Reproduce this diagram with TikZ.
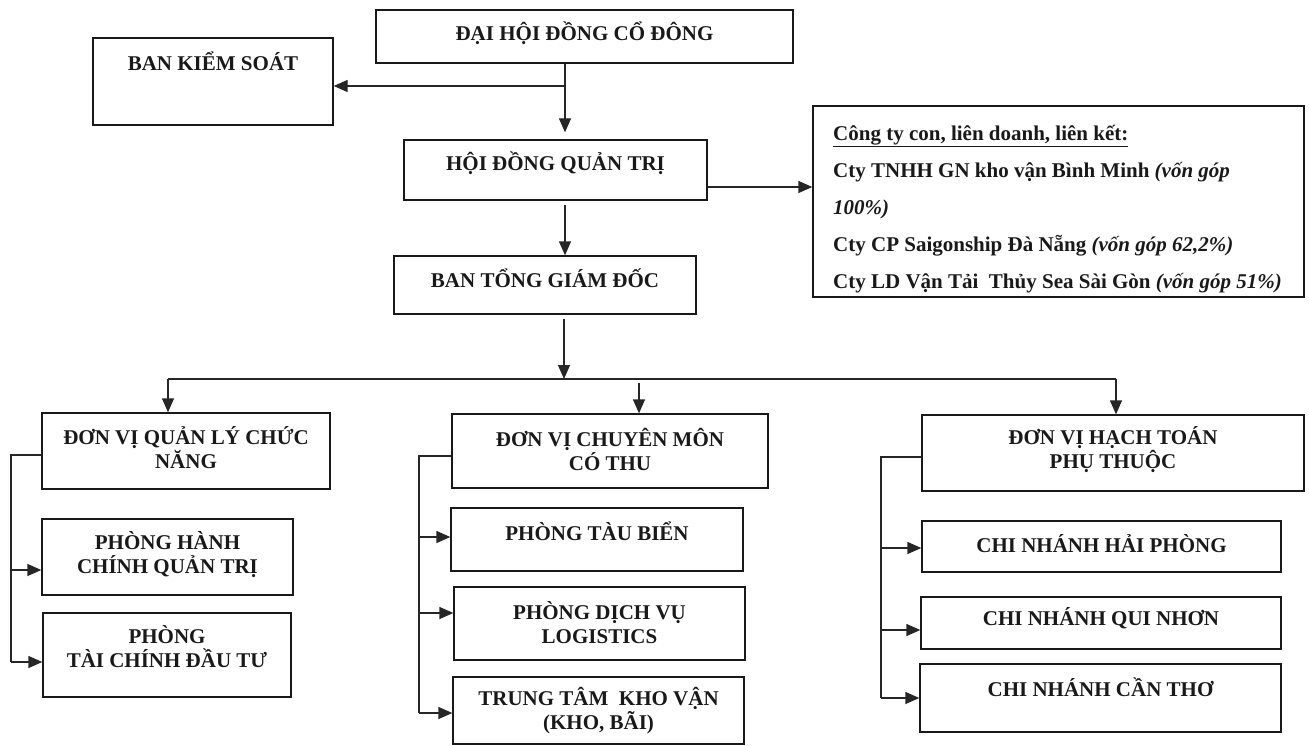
\documentclass[tikz,border=0pt]{standalone}
\usepackage{fontspec}
\setmainfont{Liberation Serif}
\usetikzlibrary{arrows.meta}
\tikzset{
  box/.style={draw=black!90, line width=1.3pt, rectangle, inner sep=0pt},
  lbl/.style={inner sep=0pt, align=center, text=black!90, font=\bfseries\fontsize{21}{24}\selectfont},
  sublbl/.style={inner sep=0pt, align=left, text=black!90, anchor=west, font=\bfseries\fontsize{21}{37}\selectfont},
  line/.style={draw=black!85, line width=1.3pt},
  arr/.style={draw=black!85, line width=1.3pt, -{Triangle[length=14pt,width=12pt]}}
}
\newcommand\obox[7]{%
  \node[box, minimum width=#4pt, minimum height=#5pt] (#1) at (#2,#3) {};
  \node[lbl] (#1-t) at (#2,#6) {#7};}
\begin{document}
\begin{tikzpicture}[x=1pt,y=-1pt]
\useasboundingbox (0,0) rectangle (1309,746);
% top boxes
\obox{dh}{584.5}{36.5}{417}{53}{33}{ĐẠI HỘI ĐỒNG CỔ ĐÔNG}
\obox{bks}{213}{81.5}{240}{87}{61}{BAN KIỂM SOÁT}
\obox{hd}{555.5}{170}{303}{60}{163}{HỘI ĐỒNG QUẢN TRỊ}
\obox{bt}{545}{285}{302}{58}{278}{BAN TỔNG GIÁM ĐỐC}
% subsidiaries
\node[box, minimum width=491pt, minimum height=191pt] (sub) at (1058.5,201.5) {};
\node[sublbl] (sub-t) at (833,209) {\underline{Công ty con, liên doanh, liên kết:}\\
Cty TNHH GN kho vận Bình Minh \textit{(vốn góp}\\
\textit{100\%)}\\
Cty CP Saigonship Đà Nẵng \textit{(vốn góp 62,2\%)}\\
Cty LD Vận Tải\ \ Thủy Sea Sài Gòn \textit{(vốn góp 51\%)}};
% left column
\obox{q1}{186}{451}{288}{76}{448}{ĐƠN VỊ QUẢN LÝ CHỨC\\NĂNG}
\obox{q2}{167.5}{557}{251}{76}{555}{PHÒNG HÀNH\\CHÍNH QUẢN TRỊ}
\obox{q3}{167}{655}{248}{84}{647}{PHÒNG\\TÀI CHÍNH ĐẦU TƯ}
% middle column
\obox{c1}{610}{451}{316}{74}{449}{ĐƠN VỊ CHUYÊN MÔN\\CÓ THU}
\obox{c2}{597}{539.5}{292}{63}{531}{PHÒNG TÀU BIỂN}
\obox{c3}{599.5}{623.5}{291}{73}{623}{PHÒNG DỊCH VỤ\\LOGISTICS}
\obox{c4}{598.5}{710.5}{291}{67}{711}{TRUNG TÂM\ \ KHO VẬN\\(KHO, BÃI)}
% right column
\obox{h1}{1113}{453}{382}{76}{450}{ĐƠN VỊ HẠCH TOÁN\\PHỤ THUỘC}
\obox{h2}{1101.5}{546.5}{359}{51}{544}{CHI NHÁNH HẢI PHÒNG}
\obox{h3}{1101}{623}{360}{52}{618}{CHI NHÁNH QUI NHƠN}
\obox{h4}{1100.5}{698}{361}{68}{687}{CHI NHÁNH CẦN THƠ}
% helper coordinates
\coordinate (spine) at (565,0);
\coordinate (j1) at (565,86);
\coordinate (ry) at (0,187);
\coordinate (bus) at (564,379);
\coordinate (busL) at (168,379);
\coordinate (busM) at (639,379);
\coordinate (busR) at (1116,379);
\coordinate (lx) at (11,0);
\coordinate (mx) at (419,0);
\coordinate (rx) at (881,0);
% top connectors
\draw[arr, shorten >=7pt] (dh.south -| spine) -- (hd.north -| spine);
\draw[arr] (j1) -- (j1 -| bks.east);
\draw[arr] (hd.east |- ry) -- (sub.west |- ry);
\draw[arr, shorten <=4pt] (hd.south -| spine) -- (bt.north -| spine);
\draw[arr, shorten <=4pt] (bt.south -| bus) -- (bus);
\draw[line] (busL) -- (busR);
\draw[arr] (busL) -- (busL |- q1.north);
\draw[arr, shorten <=4pt] (busM) -- (busM |- c1.north);
\draw[arr] (busR) -- (busR |- h1.north);
% left branch
\draw[line] (q1.west |- 0,455) -- (lx |- 0,455) -- (lx |- 0,662);
\draw[arr] (lx |- 0,570) -- (q2.west |- 0,570);
\draw[arr] (lx |- 0,662) -- (q3.west |- 0,662);
% middle branch
\draw[line] (c1.west |- 0,456) -- (mx |- 0,456) -- (mx |- 0,713);
\draw[arr] (mx |- 0,537) -- (c2.west |- 0,537);
\draw[arr] (mx |- 0,613) -- (c3.west |- 0,613);
\draw[arr] (mx |- 0,713) -- (c4.west |- 0,713);
% right branch
\draw[line] (h1.west |- 0,457) -- (rx |- 0,457) -- (rx |- 0,698);
\draw[arr] (rx |- 0,548) -- (h2.west |- 0,548);
\draw[arr] (rx |- 0,630) -- (h3.west |- 0,630);
\draw[arr] (rx |- 0,698) -- (h4.west |- 0,698);
\end{tikzpicture}
\end{document}
